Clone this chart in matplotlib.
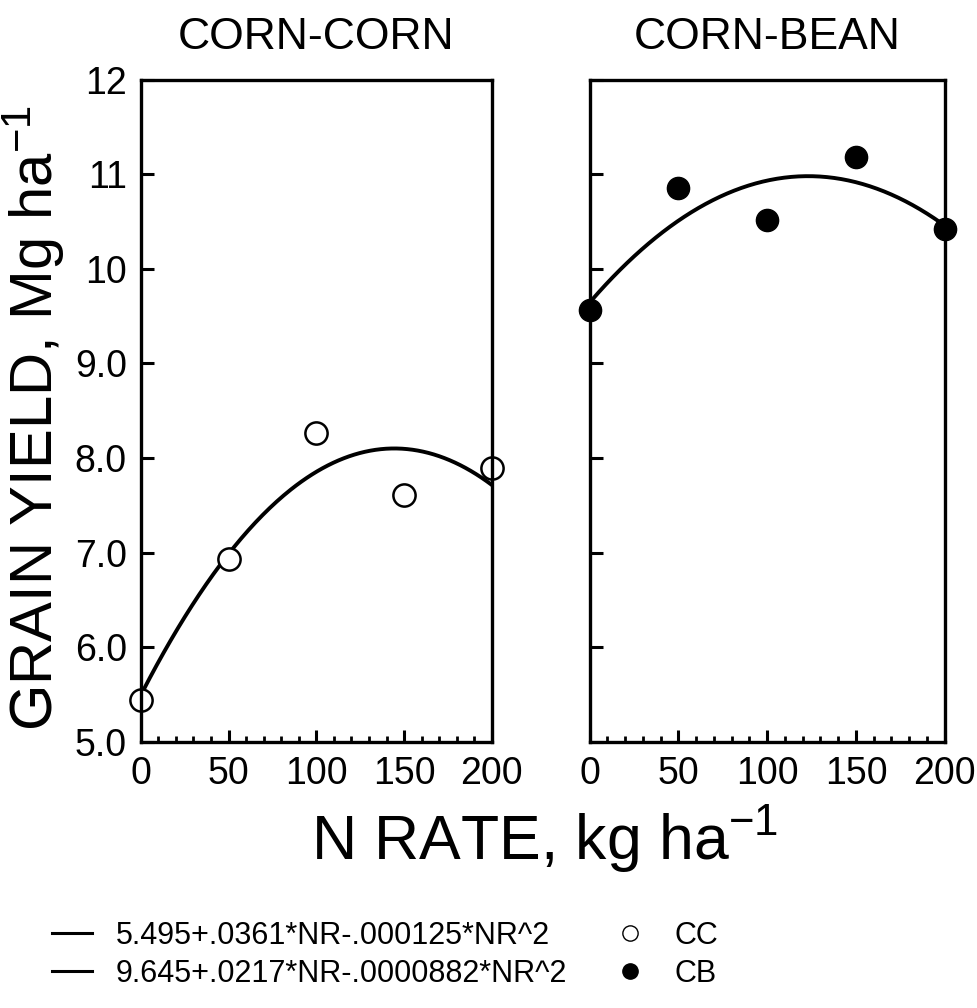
import numpy as np
import matplotlib
matplotlib.use("Agg")
import matplotlib.pyplot as plt
from matplotlib.lines import Line2D
from matplotlib.ticker import MultipleLocator

plt.rcParams['font.family'] = ['Liberation Sans', 'DejaVu Sans']
plt.rcParams['mathtext.fontset'] = 'custom'
plt.rcParams['mathtext.rm'] = 'Liberation Sans'
plt.rcParams['mathtext.it'] = 'Liberation Sans'

# data
n_rate = [0, 50, 100, 150, 200]
cc_yield = [5.44, 6.93, 8.26, 7.61, 7.89]
cb_yield = [9.57, 10.85, 10.52, 11.18, 10.42]

# fitted quadratics from the legend text
cc_coef = [5.495, 0.0361, -0.000125]
cb_coef = [9.645, 0.0217, -0.0000882]
cc_label = "5.495+.0361*NR-.000125*NR^2"
cb_label = "9.645+.0217*NR-.0000882*NR^2"

y_ticks = [5, 6, 7, 8, 9, 10, 11, 12]
y_ticklabels = ["5.0", "6.0", "7.0", "8.0", "9.0", "10", "11", "12"]
x_ticks = [0, 50, 100, 150, 200]

fig = plt.figure(figsize=(9.78, 10.08), dpi=100)
ax1 = fig.add_axes([0.144, 0.264, 0.359, 0.657])
ax2 = fig.add_axes([0.603, 0.264, 0.363, 0.657])

nr = np.linspace(0, 200, 200)


def quad(c, x):
    return c[0] + c[1] * x + c[2] * x ** 2


def style(ax, title, show_y):
    ax.set_xlim(0, 200)
    ax.set_ylim(5, 12)
    ax.set_xticks(x_ticks)
    ax.xaxis.set_minor_locator(MultipleLocator(10))
    ax.set_yticks(y_ticks)
    if show_y:
        ax.set_yticklabels(y_ticklabels)
    else:
        ax.set_yticklabels([])
    ax.tick_params(axis='both', which='major', direction='in', length=9, width=2.2,
                   labelsize=27, pad=10)
    ax.tick_params(axis='x', which='minor', direction='in', length=4, width=2)
    ax.tick_params(axis='y', which='minor', left=False)
    for s in ax.spines.values():
        s.set_linewidth(2.4)
    ax.set_title(title, fontsize=32, pad=22)


ax1.plot(nr, quad(cc_coef, nr), color='black', lw=2.8)
ax1.plot(n_rate, cc_yield, 'o', mfc='white', mec='black', mew=1.8, ms=16, clip_on=False)
style(ax1, "CORN-CORN", True)

ax2.plot(nr, quad(cb_coef, nr), color='black', lw=2.8)
ax2.plot(n_rate, cb_yield, 'o', mfc='black', mec='black', ms=16, clip_on=False)
style(ax2, "CORN-BEAN", False)

fig.text(0.034, 0.585, "GRAIN YIELD, Mg ha$^{-1}$", fontsize=43, rotation=90,
         ha='center', va='center')
fig.text(0.557, 0.168, "N RATE, kg ha$^{-1}$", fontsize=45, ha='center', va='center')

handles = [
    Line2D([], [], color='black', lw=2.2, label=cc_label),
    Line2D([], [], color='black', lw=2.2, label=cb_label),
    Line2D([], [], marker='o', ls='none', mfc='white', mec='black', ms=11, label="CC"),
    Line2D([], [], marker='o', ls='none', mfc='black', mec='black', ms=11, label="CB"),
]
fig.legend(handles=handles, ncol=2, loc='lower left', bbox_to_anchor=(0.025, -0.008),
           frameon=False, fontsize=22, handlelength=1.3, columnspacing=1.4,
           labelspacing=0.25, handletextpad=0.8)

fig.savefig("out.png", dpi=100, facecolor='white')
